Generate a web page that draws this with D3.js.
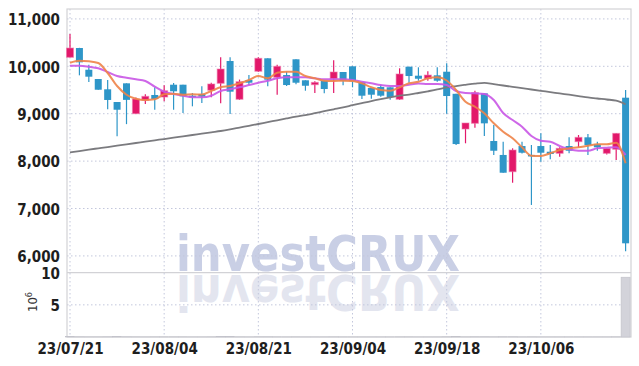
<!DOCTYPE html>
<html>
<head>
<meta charset="utf-8">
<script src="https://cdn.jsdelivr.net/npm/d3@7"></script>
<style>
  body { margin: 0; background: #fff; }
  text { font-family: "Liberation Sans Narrow", "DejaVu Sans Condensed", sans-serif; }
</style>
</head>
<body>
<div class="chart"></div>
<script>
const svgWidth = 639;
const svgHeight = 366;

// trading days, yy/mm/dd
const dates = [
  '23/07/21', '23/07/24', '23/07/25', '23/07/26', '23/07/27', '23/07/28',
  '23/07/31', '23/08/01', '23/08/02', '23/08/03', '23/08/04',
  '23/08/07', '23/08/08', '23/08/09', '23/08/10', '23/08/11',
  '23/08/14', '23/08/16', '23/08/17', '23/08/18',
  '23/08/21', '23/08/22', '23/08/23', '23/08/24', '23/08/25',
  '23/08/28', '23/08/29', '23/08/30', '23/08/31', '23/09/01',
  '23/09/04', '23/09/05', '23/09/06', '23/09/07', '23/09/08',
  '23/09/11', '23/09/12', '23/09/13', '23/09/14', '23/09/15',
  '23/09/18', '23/09/19', '23/09/20', '23/09/21', '23/09/22',
  '23/09/25', '23/09/26', '23/09/27',
  '23/10/04', '23/10/05', '23/10/06',
  '23/10/10', '23/10/11', '23/10/12', '23/10/13',
  '23/10/16', '23/10/17', '23/10/18', '23/10/19', '23/10/20'
];

const opens = [
  10190, 10386, 9928, 9732, 9515, 9247, 9641, 9000, 9283, 9395,
  9352, 9612, 9612, 9380, 9416, 9494, 9641, 10112, 9304, 9711,
  9895, 10169, 9768, 9816, 10148, 9705, 9612, 9696, 9738, 9880,
  10000, 9662, 9542, 9563, 9557, 9304, 9992, 9802, 9738, 9810,
  9886, 9420, 8677, 8797, 9430, 8424, 8130, 7776, 8318, 8130,
  8318, 8198, 8164, 8318, 8410, 8502, 8354, 8164, 8249, 9338
];
const highs = [
  10681, 10390, 10034, 9732, 9710, 9247, 9641, 9340, 9409, 9557,
  9600, 9648, 9612, 9437, 9578, 9654, 10190, 10190, 9720, 9816,
  10190, 10169, 10034, 9886, 10148, 9705, 9683, 9696, 10127, 9880,
  10000, 9662, 9542, 9612, 9557, 9958, 9992, 9979, 9894, 9979,
  10063, 9420, 8804, 9485, 9430, 8762, 8409, 8270, 8409, 8340,
  8587, 8340, 8290, 8502, 8550, 8572, 8409, 8270, 8586, 9500
];
const lows = [
  10190, 9810, 9670, 9506, 9093, 8523, 8780, 9000, 9205, 9084,
  9262, 9084, 9015, 9156, 9226, 9346, 9220, 8994, 9290, 9605,
  9880, 9578, 9400, 9584, 9620, 9485, 9437, 9430, 9437, 9600,
  9557, 9310, 9316, 9360, 9295, 9290, 9654, 9696, 9696, 9675,
  9000, 8340, 8376, 8705, 8530, 8130, 7755, 7544, 8160, 7075,
  7987, 8038, 8093, 8164, 8290, 8130, 8219, 8140, 8025, 6100
];
const closes = [
  10386, 10084, 9781, 9506, 9290, 9084, 9292, 9310, 9367, 9310,
  9485, 9473, 9367, 9352, 9360, 9627, 9943, 9465, 9675, 9654,
  10169, 9717, 10000, 9605, 9654, 9590, 9662, 9521, 9880, 9696,
  9684, 9380, 9401, 9380, 9352, 9838, 9795, 9738, 9816, 9696,
  9373, 8360, 8804, 9443, 8797, 8219, 7755, 8234, 8177, 8110,
  8177, 8150, 8270, 8219, 8502, 8340, 8291, 8270, 8586, 6266
];
// millions of shares
const volumes = [
  0.05, 0.04, 0.03, 0.03, 0.04, 0.05, 0.04, 0.03, 0.02, 0.03,
  0.03, 0.03, 0.03, 0.02, 0.02, 0.03, 0.05, 0.05, 0.03, 0.02,
  0.04, 0.04, 0.03, 0.02, 0.03, 0.02, 0.02, 0.02, 0.03, 0.02,
  0.02, 0.02, 0.02, 0.02, 0.02, 0.03, 0.03, 0.02, 0.02, 0.02,
  0.04, 0.06, 0.03, 0.04, 0.04, 0.03, 0.04, 0.04, 0.02, 0.03,
  0.02, 0.02, 0.02, 0.02, 0.02, 0.02, 0.02, 0.02, 0.03, 9.3
];

const ma5 = [
  10076, 10118, 10105, 10070, 9859, 9584, 9401, 9316, 9289, 9304,
  9409, 9422, 9401, 9409, 9405, 9479, 9557, 9584, 9641, 9711,
  9795, 9747, 9865, 9886, 9886, 9795, 9747, 9696, 9690, 9696,
  9690, 9641, 9557, 9500, 9485, 9557, 9641, 9675, 9747, 9768,
  9700, 9500, 9253, 9148, 9008, 8797, 8620, 8481, 8291, 8114,
  8108, 8165, 8234, 8270, 8291, 8325, 8354, 8354, 8388, 7954
];
const ma20 = [
  10013, 10013, 9992, 9958, 9880, 9795, 9759, 9726, 9690, 9570,
  9464, 9416, 9380, 9346, 9346, 9380, 9479, 9515, 9557, 9605,
  9654, 9696, 9747, 9768, 9768, 9768, 9747, 9726, 9726, 9726,
  9711, 9675, 9641, 9605, 9584, 9584, 9612, 9637, 9627, 9627,
  9605, 9479, 9437, 9430, 9416, 9289, 9015, 8867, 8726, 8530,
  8430, 8409, 8319, 8249, 8219, 8219, 8270, 8283, 8291, 8129
];
const ma60 = [
  8186, 8213, 8243, 8270, 8297, 8327, 8354, 8382, 8411, 8439,
  8466, 8496, 8523, 8551, 8580, 8608, 8635, 8669, 8707, 8745,
  8783, 8823, 8861, 8901, 8939, 8970, 9011, 9053, 9093, 9133,
  9179, 9224, 9268, 9308, 9346, 9382, 9403, 9437, 9473, 9511,
  9555, 9584, 9610, 9635, 9652, 9624, 9595, 9567, 9540, 9511,
  9483, 9456, 9428, 9401, 9373, 9344, 9321, 9300, 9274, 9198
];

const tickDates = ['23/07/21', '23/08/04', '23/08/21', '23/09/04', '23/09/18', '23/10/06'];
const priceTicks = [6000, 7000, 8000, 9000, 10000, 11000];
const volumeTicks = [5, 10];

const plot = { left: 67, right: 631, top: 9, split: 272.7, bottom: 337 };
const upColor = '#e2186a';
const downColor = '#2e96c8';
const gridColor = '#c3c7dc';
const frameColor = '#d2d2d6';

const svg = d3.select('.chart')
  .append('svg')
  .attr('width', svgWidth)
  .attr('height', svgHeight);

const x = d3.scalePoint()
  .domain(dates)
  .range([70, 625.6]);

const yPrice = d3.scaleLinear()
  .domain([5646, 11209])
  .range([plot.split, plot.top]);

const yVol = d3.scaleLinear()
  .domain([0, 10])
  .range([plot.bottom, plot.split]);

// watermark + reflection
const wm = svg.append('g')
  .style('font-family', '"DejaVu Sans", sans-serif')
  .style('font-weight', 'bold')
  .style('font-size', '50px');
wm.append('text')
  .attr('x', 176)
  .attr('y', 271)
  .attr('textLength', 284)
  .attr('lengthAdjust', 'spacingAndGlyphs')
  .attr('fill', '#c9cfe5')
  .text('investCRUX');
wm.append('text')
  .attr('x', 176)
  .attr('y', 0)
  .attr('transform', 'translate(0,275) scale(1,-1)')
  .attr('textLength', 284)
  .attr('lengthAdjust', 'spacingAndGlyphs')
  .attr('fill', '#e3e5ef')
  .text('investCRUX');

// grid
const grid = svg.append('g')
  .attr('stroke', gridColor)
  .attr('stroke-width', 1)
  .attr('stroke-dasharray', '1.5,2.5');
grid.selectAll('.vgrid')
  .data(tickDates)
  .enter()
  .append('line')
  .attr('x1', d => x(d)).attr('x2', d => x(d))
  .attr('y1', plot.top).attr('y2', plot.bottom);
grid.selectAll('.pgrid')
  .data(priceTicks)
  .enter()
  .append('line')
  .attr('x1', plot.left).attr('x2', plot.right)
  .attr('y1', d => yPrice(d)).attr('y2', d => yPrice(d));
grid.selectAll('.volgrid')
  .data([5])
  .enter()
  .append('line')
  .attr('x1', plot.left).attr('x2', plot.right)
  .attr('y1', d => yVol(d)).attr('y2', d => yVol(d));

// frame
const frame = svg.append('g')
  .attr('stroke', frameColor)
  .attr('stroke-width', 1.2)
  .attr('fill', 'none');
frame.append('rect')
  .attr('x', plot.left).attr('y', plot.top)
  .attr('width', plot.right - plot.left)
  .attr('height', plot.bottom - plot.top);
frame.append('line')
  .attr('x1', plot.left).attr('x2', plot.right)
  .attr('y1', plot.split).attr('y2', plot.split);

const candles = dates.map((d, i) => ({
  date: d, open: opens[i], high: highs[i], low: lows[i], close: closes[i], volume: volumes[i]
}));

// volume bars
svg.append('g')
  .selectAll('rect')
  .data(candles)
  .enter()
  .append('rect')
  .attr('x', d => x(d.date) - 4.5)
  .attr('width', 9)
  .attr('y', d => yVol(d.volume))
  .attr('height', d => yVol(0) - yVol(d.volume))
  .attr('fill', '#d3d3da')
  .attr('stroke', '#c0c0c8')
  .attr('stroke-width', 0.6);

// candles
const candleGroup = svg.append('g')
  .selectAll('g')
  .data(candles)
  .enter()
  .append('g');
candleGroup.append('line')
  .attr('x1', d => x(d.date)).attr('x2', d => x(d.date))
  .attr('y1', d => yPrice(d.high)).attr('y2', d => yPrice(d.low))
  .attr('stroke', d => d.close >= d.open ? upColor : downColor)
  .attr('stroke-width', 1.2);
candleGroup.append('rect')
  .attr('x', d => x(d.date) - 3.5)
  .attr('width', 7)
  .attr('y', d => yPrice(Math.max(d.open, d.close)))
  .attr('height', d => Math.max(1.5, yPrice(Math.min(d.open, d.close)) - yPrice(Math.max(d.open, d.close))))
  .attr('fill', d => d.close >= d.open ? upColor : downColor)
  .attr('stroke', d => d.close >= d.open ? 'rgba(240,120,170,0.6)' : 'none')
  .attr('stroke-width', 1);

// moving averages
const maLine = arr => d3.line()
  .x((d, i) => x(dates[i]))
  .y(d => yPrice(d))
  .curve(d3.curveMonotoneX)(arr);

svg.append('path')
  .attr('d', maLine(ma60))
  .attr('fill', 'none')
  .attr('stroke', '#7b7b7f')
  .attr('stroke-width', 1.8);
svg.append('path')
  .attr('d', maLine(ma20))
  .attr('fill', 'none')
  .attr('stroke', '#c957e6')
  .attr('stroke-opacity', 0.9)
  .attr('stroke-width', 2);
svg.append('path')
  .attr('d', maLine(ma5))
  .attr('fill', 'none')
  .attr('stroke', '#ee8348')
  .attr('stroke-opacity', 0.9)
  .attr('stroke-width', 2);

// axes
function styleTicks(sel) {
  sel.selectAll('text')
    .attr('fill', '#1e1e1e')
    .style('font-size', '15px')
    .style('font-weight', 'bold');
}

const priceAxis = d3.axisLeft(yPrice)
  .tickValues(priceTicks)
  .tickFormat(d3.format(','))
  .tickSize(0)
  .tickPadding(7);
svg.append('g')
  .attr('transform', `translate(${plot.left},1)`)
  .call(priceAxis)
  .call(g => g.select('.domain').remove())
  .call(styleTicks);

const volAxis = d3.axisLeft(yVol)
  .tickValues(volumeTicks)
  .tickSize(0)
  .tickPadding(7);
svg.append('g')
  .attr('transform', `translate(${plot.left},1)`)
  .call(volAxis)
  .call(g => g.select('.domain').remove())
  .call(styleTicks);

const dateAxis = d3.axisBottom(x)
  .tickValues(tickDates)
  .tickSize(0)
  .tickPadding(6);
svg.append('g')
  .attr('transform', `translate(0,${plot.bottom})`)
  .call(dateAxis)
  .call(g => g.select('.domain').remove())
  .call(styleTicks);

// volume unit
const unit = svg.append('text')
  .attr('transform', 'translate(37,302) rotate(-90)')
  .attr('text-anchor', 'middle')
  .attr('fill', '#333')
  .style('font-size', '13px');
unit.append('tspan').text('10');
unit.append('tspan')
  .attr('baseline-shift', 'super')
  .style('font-size', '9px')
  .text('6');
</script>
</body>
</html>
